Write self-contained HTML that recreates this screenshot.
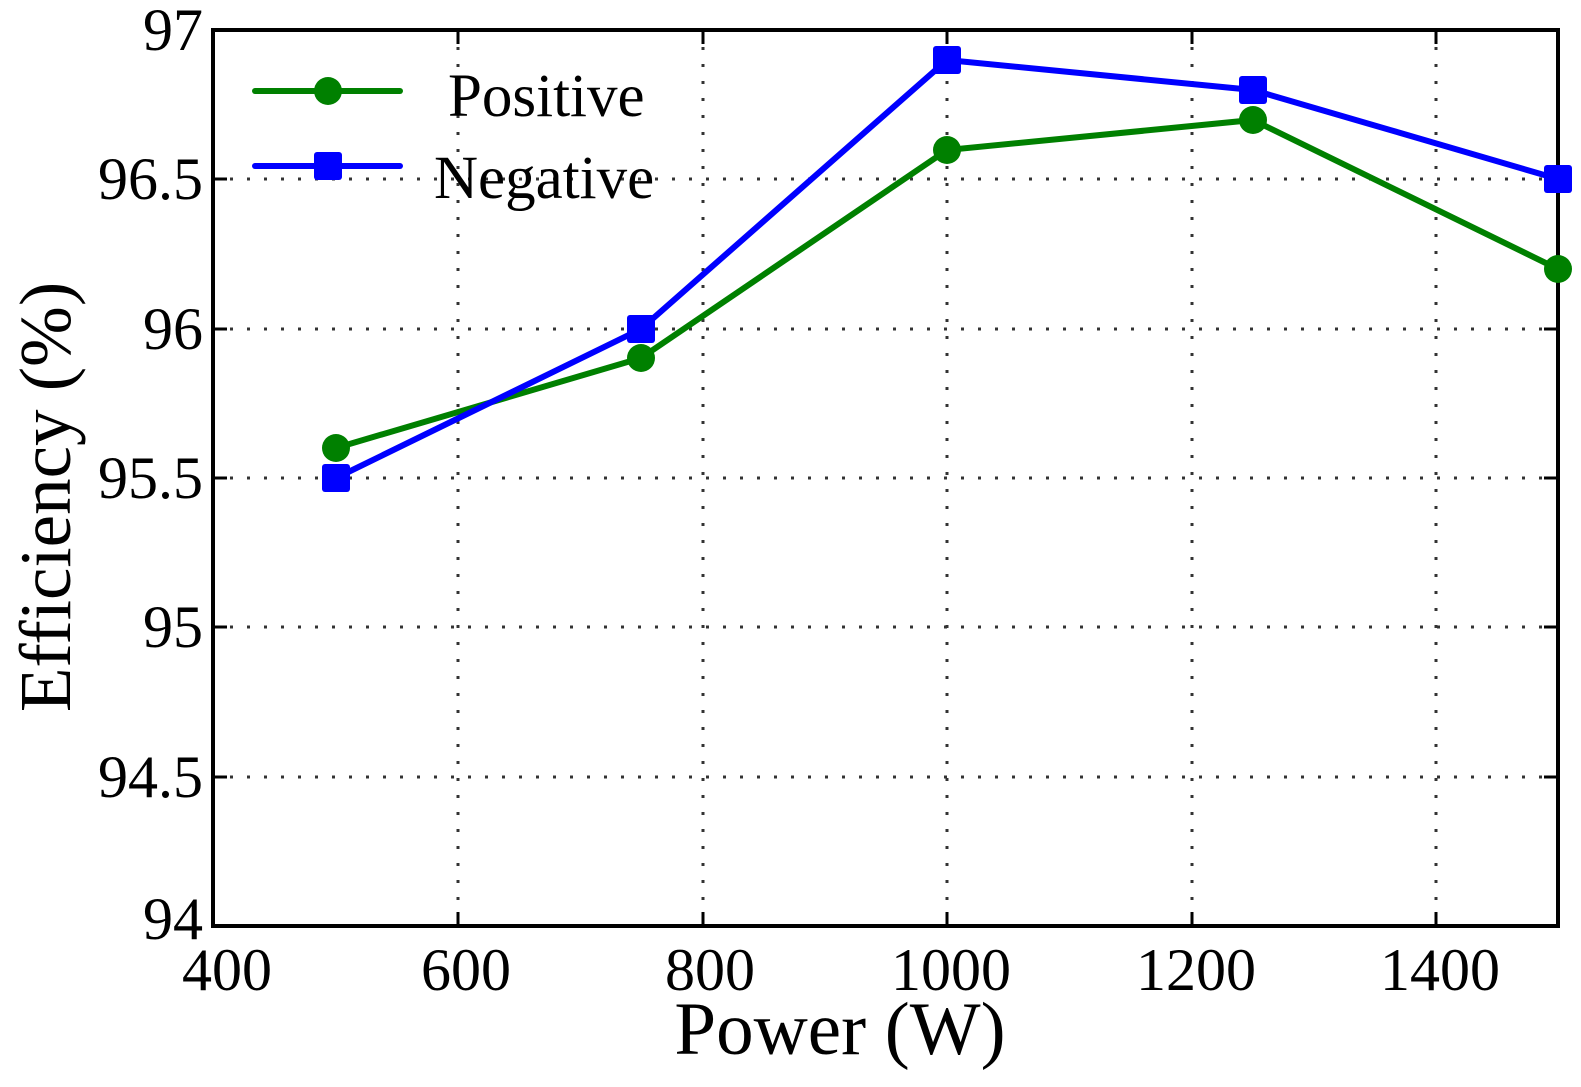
<!DOCTYPE html>
<html><head><style>body{margin:0;background:#fff}</style></head><body>
<svg width="1581" height="1082" xmlns="http://www.w3.org/2000/svg" font-family="Liberation Serif, serif">
<rect width="1581" height="1082" fill="#fff"/>
<g stroke="#333" stroke-width="3" stroke-dasharray="3,14">
<line x1="458" y1="30" x2="458" y2="926"/><line x1="703" y1="30" x2="703" y2="926"/>
<line x1="947" y1="30" x2="947" y2="926"/><line x1="1192" y1="30" x2="1192" y2="926"/>
<line x1="1436" y1="30" x2="1436" y2="926"/>
<line x1="213" y1="179" x2="1558" y2="179"/><line x1="213" y1="329" x2="1558" y2="329"/>
<line x1="213" y1="478" x2="1558" y2="478"/><line x1="213" y1="627" x2="1558" y2="627"/>
<line x1="213" y1="777" x2="1558" y2="777"/>
</g>
<g stroke="#000" stroke-width="3">
<line x1="458" y1="926" x2="458" y2="912"/><line x1="703" y1="926" x2="703" y2="912"/><line x1="947" y1="926" x2="947" y2="912"/><line x1="1192" y1="926" x2="1192" y2="912"/><line x1="1436" y1="926" x2="1436" y2="912"/>
<line x1="458" y1="30" x2="458" y2="44"/><line x1="703" y1="30" x2="703" y2="44"/><line x1="947" y1="30" x2="947" y2="44"/><line x1="1192" y1="30" x2="1192" y2="44"/><line x1="1436" y1="30" x2="1436" y2="44"/>
<line x1="213" y1="179" x2="227" y2="179"/><line x1="213" y1="329" x2="227" y2="329"/><line x1="213" y1="478" x2="227" y2="478"/><line x1="213" y1="627" x2="227" y2="627"/><line x1="213" y1="777" x2="227" y2="777"/>
<line x1="1558" y1="179" x2="1544" y2="179"/><line x1="1558" y1="329" x2="1544" y2="329"/><line x1="1558" y1="478" x2="1544" y2="478"/><line x1="1558" y1="627" x2="1544" y2="627"/><line x1="1558" y1="777" x2="1544" y2="777"/>
</g>
<rect x="213" y="30" width="1345" height="896" fill="none" stroke="#000" stroke-width="4"/>
<polyline points="336,448 641,358 947,150 1253,120 1558,269" fill="none" stroke="#008000" stroke-width="6"/>
<g fill="#008000"><circle cx="336" cy="448" r="14"/><circle cx="641" cy="358" r="14"/><circle cx="947" cy="150" r="14"/><circle cx="1253" cy="120" r="14"/><circle cx="1558" cy="269" r="14"/></g>
<polyline points="336,478 641,329 947,60 1253,90 1558,179" fill="none" stroke="#0000ff" stroke-width="6"/>
<g fill="#0000ff"><rect x="322" y="464" width="28" height="28" rx="3"/><rect x="627" y="315" width="28" height="28" rx="3"/><rect x="933" y="46" width="28" height="28" rx="3"/><rect x="1239" y="76" width="28" height="28" rx="3"/><rect x="1544" y="165" width="28" height="28" rx="3"/></g>
<line x1="255" y1="91" x2="400" y2="91" stroke="#008000" stroke-width="6" stroke-linecap="round"/>
<circle cx="328" cy="91" r="14" fill="#008000"/>
<line x1="255" y1="166" x2="400" y2="166" stroke="#0000ff" stroke-width="6" stroke-linecap="round"/>
<rect x="314" y="152" width="28" height="28" rx="3" fill="#0000ff"/>
<g font-size="61" fill="#000">
<text x="448" y="116">Positive</text><text x="434" y="198">Negative</text>
</g>
<g font-size="60" fill="#000" text-anchor="end">
<text x="203" y="50">97</text><text x="203" y="199">96.5</text><text x="203" y="349">96</text><text x="203" y="498">95.5</text><text x="203" y="647">95</text><text x="203" y="797">94.5</text><text x="203" y="939">94</text>
</g>
<g font-size="60" fill="#000" text-anchor="middle">
<text x="227" y="990">400</text><text x="466" y="990">600</text><text x="710" y="990">800</text><text x="951" y="990">1000</text><text x="1196" y="990">1200</text><text x="1440" y="990">1400</text>
</g>
<text x="840" y="1054" font-size="75" text-anchor="middle">Power (W)</text>
<text transform="translate(70,497) rotate(-90)" font-size="73" text-anchor="middle">Efficiency (%)</text>
</svg>
</body></html>
